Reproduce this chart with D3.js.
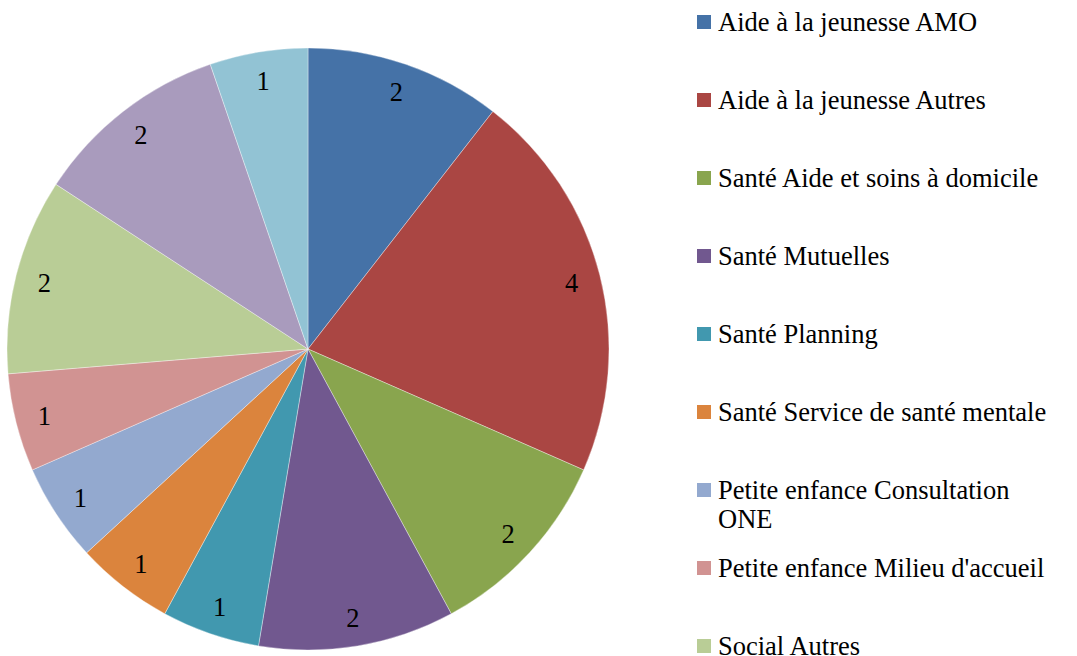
<!DOCTYPE html>
<html>
<head>
<meta charset="utf-8">
<script src="https://cdn.jsdelivr.net/npm/d3@7"></script>
<style>
  body { margin: 0; background: #fff; }
  text { font-family: "Liberation Serif", "DejaVu Serif", serif; fill: #000; }
</style>
</head>
<body>
<div id="chart"></div>
<script>
// pie of services

var values = [2, 4, 2, 2, 1, 1, 1, 1, 2, 2, 1];

var legendNames = [
  "Aide à la jeunesse AMO",
  "Aide à la jeunesse Autres",
  "Santé Aide et soins à domicile",
  "Santé Mutuelles",
  "Santé Planning",
  "Santé Service de santé mentale",
  ["Petite enfance Consultation", "ONE"],
  "Petite enfance Milieu d'accueil",
  "Social Autres"
];

var colors = ["#4572A7", "#AA4643", "#89A54E", "#71588F", "#4198AF", "#DB843D",
              "#93A9CF", "#D19392", "#B9CD96", "#A99BBD", "#92C3D4"];

var totwidth = 1077,
    totheight = 656,
    cx = 308, cy = 349,
    radius = 301,
    labelRadius = 272,
    fontSize = 26.5;

var svg = d3.select("#chart").append("svg")
    .attr("width", totwidth)
    .attr("height", totheight);

var pie = d3.pie().sort(null).value(function(d) { return d; });
var arc = d3.arc().innerRadius(0).outerRadius(radius);
var labelArc = d3.arc().innerRadius(labelRadius).outerRadius(labelRadius);

var g = svg.append("g").attr("transform", "translate(" + cx + "," + cy + ")");

var slices = g.selectAll(".slice")
    .data(pie(values))
    .enter().append("g").attr("class", "slice");

slices.append("path")
    .attr("d", arc)
    .attr("fill", function(d, i) { return colors[i]; })
    .attr("stroke", "#ffffff")
    .attr("stroke-opacity", 0.6)
    .attr("stroke-width", 0.6);

slices.append("text")
    .attr("transform", function(d) { return "translate(" + labelArc.centroid(d) + ")"; })
    .attr("text-anchor", "middle")
    .attr("dy", "0.35em")
    .style("font-size", fontSize + "px")
    .text(function(d) { return d.data; });

// legend
var legendY = d3.scaleLinear().domain([0, 1]).range([22, 100]);

var legend = svg.selectAll(".legendItem")
    .data(legendNames)
    .enter().append("g")
    .attr("class", "legendItem")
    .attr("transform", function(d, i) { return "translate(697," + legendY(i) + ")"; });

legend.append("rect")
    .attr("x", 0)
    .attr("y", -7)
    .attr("width", 14)
    .attr("height", 14)
    .attr("fill", function(d, i) { return colors[i]; });

legend.append("text")
    .attr("x", 21)
    .attr("y", 0)
    .style("font-size", fontSize + "px")
    .each(function(d) {
      var lines = Array.isArray(d) ? d : [d];
      var t = d3.select(this);
      lines.forEach(function(line, j) {
        t.append("tspan").attr("x", 21).attr("dy", j === 0 ? "0.35em" : "1.1em").text(line);
      });
    });
</script>
</body>
</html>
